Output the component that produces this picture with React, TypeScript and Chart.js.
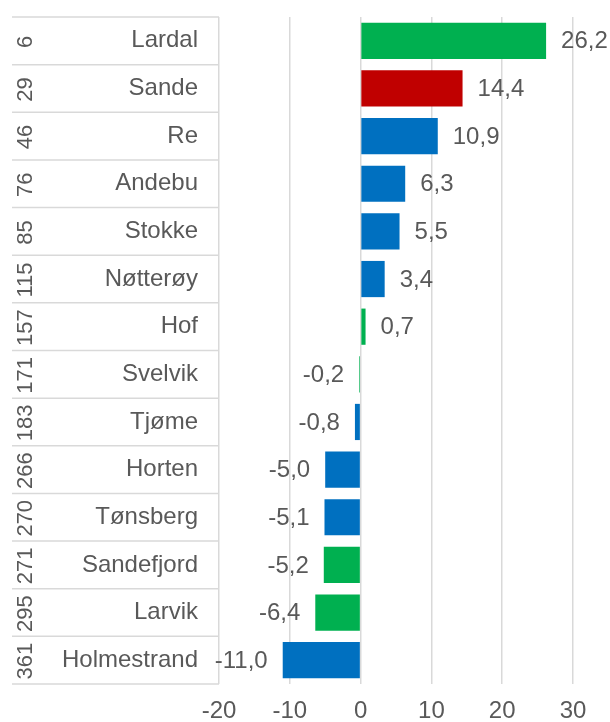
import React, { useEffect, useRef } from "react";
import { Chart, registerables } from "chart.js";

Chart.register(...registerables);

const names = ["Lardal", "Sande", "Re", "Andebu", "Stokke", "Nøtterøy", "Hof", "Svelvik", "Tjøme", "Horten", "Tønsberg", "Sandefjord", "Larvik", "Holmestrand"];
const ranks = ["6", "29", "46", "76", "85", "115", "157", "171", "183", "266", "270", "271", "295", "361"];
const values = [26.2, 14.4, 10.9, 6.3, 5.5, 3.4, 0.7, -0.2, -0.8, -5.0, -5.1, -5.2, -6.4, -11.0];
const GREEN = "#00B050";
const RED = "#C00000";
const BLUE = "#0070C0";
const barColors = [GREEN, RED, BLUE, BLUE, BLUE, BLUE, GREEN, GREEN, BLUE, BLUE, BLUE, GREEN, GREEN, BLUE];
const xMin = -20;
const xMax = 30;
const xStep = 10;

const FONT = "'Liberation Sans', Arial, sans-serif";
const FONT_SIZE = 24;
const RANK_SIZE = 22;
const TEXT = "#595959";
const GRID = "#d9d9d9";

const fmt = (v: number) => v.toFixed(1).replace(".", ",");

const tablePlugin = {
  id: "tablePlugin",
  beforeDatasetsDraw(chart: any) {
    const { ctx, chartArea } = chart;
    const y = chart.scales.y;
    const n = names.length;
    ctx.save();
    ctx.strokeStyle = GRID;
    ctx.lineWidth = 1.5;
    const left = 12;
    for (let i = 0; i <= n; i++) {
      let py: number;
      if (i === 0) py = y.getPixelForValue(0) - (y.getPixelForValue(1) - y.getPixelForValue(0)) / 2;
      else if (i === n) py = y.getPixelForValue(n - 1) + (y.getPixelForValue(n - 1) - y.getPixelForValue(n - 2)) / 2;
      else py = (y.getPixelForValue(i - 1) + y.getPixelForValue(i)) / 2;
      ctx.beginPath();
      ctx.moveTo(left, py);
      ctx.lineTo(chartArea.left, py);
      ctx.stroke();
    }
    ctx.fillStyle = TEXT;
    ctx.font = `${RANK_SIZE}px ${FONT}`;
    ctx.textAlign = "center";
    ctx.textBaseline = "middle";
    for (let i = 0; i < n; i++) {
      const py = y.getPixelForValue(i);
      ctx.save();
      ctx.translate(26, py + 1);
      ctx.rotate(-Math.PI / 2);
      ctx.fillText(ranks[i], 0, 0);
      ctx.restore();
    }
    ctx.restore();
  },
  afterDatasetsDraw(chart: any) {
    const { ctx } = chart;
    const meta = chart.getDatasetMeta(0);
    ctx.save();
    ctx.fillStyle = TEXT;
    ctx.font = `${FONT_SIZE}px ${FONT}`;
    ctx.textBaseline = "middle";
    meta.data.forEach((el: any, i: number) => {
      const v = values[i];
      const base = el.base;
      const end = el.x;
      if (v >= 0) {
        ctx.textAlign = "left";
        ctx.fillText(fmt(v), Math.max(end, base) + 15, el.y + 1);
      } else {
        ctx.textAlign = "right";
        ctx.fillText(fmt(v), Math.min(end, base) - 15, el.y + 1);
      }
    });
    ctx.restore();
  },
};

export default function App() {
  const ref = useRef<HTMLCanvasElement | null>(null);
  useEffect(() => {
    document.body.style.margin = "0";
    const canvas = ref.current!;
    const chart = new Chart(canvas, {
      type: "bar",
      data: {
        labels: names,
        datasets: [
          {
            data: values,
            backgroundColor: barColors,
            borderWidth: 0,
            categoryPercentage: 1,
            barPercentage: 0.76,
          },
        ],
      },
      options: {
        indexAxis: "y",
        animation: false,
        responsive: false,
        maintainAspectRatio: false,
        layout: { padding: { left: 12, right: 37, top: 17, bottom: 0 } },
        plugins: { legend: { display: false }, tooltip: { enabled: false } },
        scales: {
          x: {
            type: "linear",
            min: xMin,
            max: xMax,
            ticks: {
              stepSize: xStep,
              color: TEXT,
              font: { family: FONT, size: FONT_SIZE },
              padding: 13,
              callback: (v: any) => String(v),
            },
            grid: { color: GRID, lineWidth: 1.5, drawTicks: false },
            border: { display: false },
            afterFit: (s: any) => {
              s.height = 38;
              s.paddingLeft = 0;
              s.paddingRight = 0;
            },
          },
          y: {
            type: "category",
            ticks: {
              color: TEXT,
              font: { family: FONT, size: FONT_SIZE },
              padding: 13,
            },
            grid: { display: false },
            border: { display: false },
            afterFit: (s: any) => {
              s.width = 207;
              s.paddingTop = 0;
              s.paddingBottom = 0;
            },
          },
        },
      },
      plugins: [tablePlugin],
    } as any);
    return () => chart.destroy();
  }, []);
  return (
    <div style={{ width: 610, height: 722 }}>
      <canvas ref={ref} width={610} height={722} style={{ display: "block" }} />
    </div>
  );
}
